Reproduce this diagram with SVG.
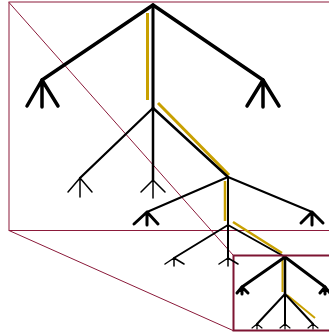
<svg xmlns="http://www.w3.org/2000/svg" width="329" height="336" viewBox="0 0 329 336">
<style>
.frame{fill:none;stroke:#8b1a3a;stroke-width:1}
.inner{fill:none;stroke:#7d1432;stroke-width:2}
.e{stroke:#000;fill:none;stroke-linecap:round}
.hl{stroke:#c8a000;fill:none;stroke-linecap:butt}
.leg{stroke:#000;fill:none;stroke-linecap:round;stroke-linejoin:round}
</style>
<rect width="329" height="336" fill="#fff"/>
<g id="zoom-frames">
<rect class="frame" x="9" y="2" width="330" height="228.5"/>
<line class="frame" x1="9" y1="2.5" x2="233" y2="255"/>
<line class="frame" x1="9" y1="230.5" x2="233" y2="330.5"/>
</g>
<g id="highlight">
<line class="hl" x1="147.5" y1="13" x2="147.5" y2="100" stroke-width="3"/>
<line class="hl" x1="158" y1="103" x2="229" y2="175" stroke-width="3"/>
<line class="hl" x1="225" y1="181" x2="225" y2="221" stroke-width="2.5"/>
<line class="hl" x1="233" y1="222" x2="282" y2="253" stroke-width="2.5"/>
<line class="hl" x1="282.5" y1="259" x2="282.5" y2="292" stroke-width="2"/>
<line class="hl" x1="287" y1="295" x2="315" y2="318" stroke-width="2"/>
</g>
<g id="connectors">
<line class="e" x1="153" y1="5" x2="42" y2="80" stroke-width="3.5"/>
<line class="e" x1="153" y1="5" x2="153" y2="108" stroke-width="3"/>
<line class="e" x1="153" y1="5" x2="263" y2="80" stroke-width="3.5"/>
<line class="e" x1="153" y1="108" x2="80" y2="178" stroke-width="2.3"/>
<line class="e" x1="153" y1="108" x2="153" y2="180" stroke-width="2.5"/>
<line class="e" x1="153" y1="108" x2="228" y2="177" stroke-width="2.5"/>
<line class="e" x1="228" y1="177" x2="147" y2="212" stroke-width="2"/>
<line class="e" x1="228" y1="177" x2="228" y2="225" stroke-width="2"/>
<line class="e" x1="228" y1="177" x2="312" y2="212" stroke-width="2"/>
<line class="e" x1="228" y1="225" x2="174" y2="258" stroke-width="2"/>
<line class="e" x1="228" y1="225" x2="228" y2="258" stroke-width="2"/>
<line class="e" x1="228" y1="225" x2="285" y2="257" stroke-width="2"/>
<line class="e" x1="285" y1="257" x2="242" y2="287" stroke-width="3"/>
<line class="e" x1="285" y1="257" x2="285" y2="294" stroke-width="2.5"/>
<line class="e" x1="285" y1="257" x2="325" y2="287" stroke-width="3"/>
<line class="e" x1="285" y1="294" x2="257" y2="324" stroke-width="2"/>
<line class="e" x1="285" y1="294" x2="285" y2="324" stroke-width="2"/>
<line class="e" x1="285" y1="294" x2="313" y2="324" stroke-width="2"/>
</g>
<g id="inner-frame">
<rect class="inner" x="233.5" y="255.5" width="100" height="75"/>
</g>
<g id="n-root"><circle cx="153" cy="5" r="0" /></g>
<g id="n-a"><path class="leg" stroke-width="3.5" d="M42,80 L27,106 M42,80 L42,107 M42,80 L58,106"/></g>
<g id="n-c"><path class="leg" stroke-width="3.5" d="M263,80 L247,106 M263,80 L263,107 M263,80 L279,106"/></g>
<g id="n-b"><circle cx="153" cy="108" r="0"/></g>
<g id="n-d"><path class="leg" stroke-width="1.5" d="M80,178 L68,192 M80,178 L80,197 M80,178 L92,192"/></g>
<g id="n-e"><path class="leg" stroke-width="1.5" d="M153,180 L141,192 M153,180 L153,198 M153,180 L165,192"/></g>
<g id="n-f"><circle cx="228" cy="177" r="0"/></g>
<g id="n-g"><path class="leg" stroke-width="3" d="M147,212 L134,224 M147,212 L147,225 M147,212 L158,224"/></g>
<g id="n-i"><path class="leg" stroke-width="3" d="M312,212 L301,223 M312,212 L312,225 M312,212 L323,223"/></g>
<g id="n-h"><circle cx="228" cy="225" r="0"/></g>
<g id="n-j"><path class="leg" stroke-width="1.5" d="M174,258 L165,264 M174,258 L174,266 M174,258 L184,264"/></g>
<g id="n-k"><path class="leg" stroke-width="1.5" d="M228,258 L219,264 M228,258 L228,266 M228,258 L238,264"/></g>
<g id="n-l"><circle cx="285" cy="257" r="0"/></g>
<g id="n-m"><path class="leg" stroke-width="3" d="M242,287 L237,293 M242,287 L242,294 M242,287 L248,293"/></g>
<g id="n-o"><path class="leg" stroke-width="3" d="M325,287 L320,293 M325,287 L325,294 M325,287 L330,293"/></g>
<g id="n-n"><circle cx="285" cy="294" r="0"/></g>
<g id="n-p"><path class="leg" stroke-width="1.2" d="M257,324 L252,328 M257,324 L257,329 M257,324 L262,328"/></g>
<g id="n-q"><path class="leg" stroke-width="1.2" d="M285,324 L280,328 M285,324 L285,329 M285,324 L290,328"/></g>
<g id="n-s"><path class="leg" stroke-width="1.2" d="M313,324 L308,328 M313,324 L313,329 M313,324 L318,328"/></g>
</svg>
